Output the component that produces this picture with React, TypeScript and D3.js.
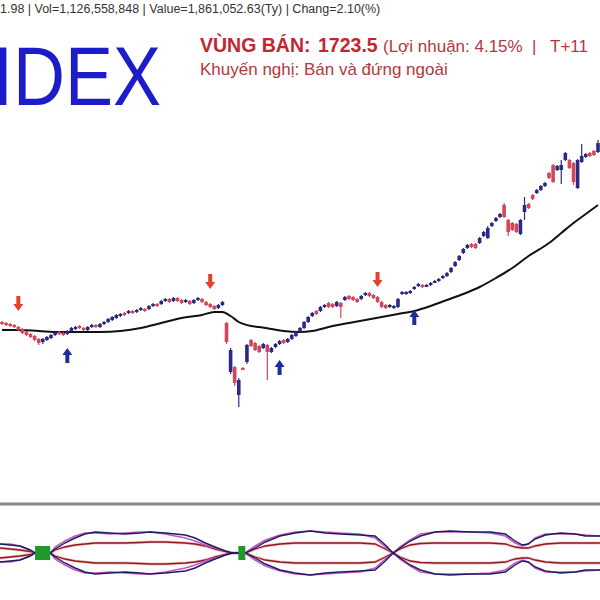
import React from "react";
import * as d3 from "d3";

// ---------- Candle data (price units) ----------
const opens = [1356,1354,1352,1350,1346,1342,1336,1332,1328,1322,1316,1320,1324,1330,1336,1334,1332,1338,1342,1348,1344,1340,1346,1350,1346,1352,1356,1360,1364,1368,1374,1374,1378,1376,1380,1382,1382,1388,1392,1392,1398,1402,1398,1404,1400,1396,1398,1394,1400,1402,1396,1392,1388,1384,1390,1354,1256,1266,1210,1264,1276,1320,1314,1308,1304,1310,1296,1306,1312,1320,1316,1322,1328,1336,1344,1356,1368,1378,1378,1386,1394,1392,1388,1394,1400,1408,1406,1402,1402,1410,1414,1410,1406,1396,1390,1386,1384,1386,1412,1412,1414,1422,1428,1430,1428,1430,1436,1438,1444,1448,1456,1468,1480,1494,1504,1512,1512,1514,1528,1524,1548,1558,1566,1590,1560,1554,1552,1532,1576,1592,1610,1614,1620,1628,1654,1670,1660,1660,1680,1680,1674,1624,1676,1686,1694,1698,1696];
const closes = [1352,1350,1348,1346,1340,1334,1330,1326,1320,1314,1322,1326,1330,1334,1332,1330,1338,1344,1346,1344,1340,1346,1350,1346,1352,1356,1362,1366,1370,1372,1370,1378,1374,1380,1384,1378,1388,1392,1388,1398,1402,1396,1404,1398,1394,1400,1392,1400,1404,1396,1390,1386,1382,1390,1396,1316,1300,1234,1240,1262,1310,1308,1300,1296,1312,1296,1304,1312,1318,1314,1322,1330,1336,1344,1356,1366,1374,1372,1386,1390,1386,1386,1396,1386,1406,1402,1400,1396,1408,1414,1408,1404,1396,1386,1384,1390,1388,1402,1416,1416,1418,1426,1432,1426,1430,1434,1438,1442,1448,1454,1464,1476,1488,1502,1510,1506,1504,1524,1536,1544,1554,1564,1572,1566,1536,1540,1536,1560,1590,1584,1602,1620,1628,1634,1644,1636,1668,1670,1694,1664,1636,1680,1688,1692,1688,1690,1714];
const highs = [1358,1356,1354,1352,1348,1344,1338,1334,1330,1324,1324,1328,1332,1336,1338,1336,1340,1346,1348,1350,1346,1348,1352,1352,1354,1358,1364,1368,1372,1374,1376,1380,1380,1382,1386,1384,1390,1394,1394,1400,1404,1404,1406,1406,1402,1402,1400,1402,1406,1404,1398,1394,1390,1392,1398,1356,1304,1268,1244,1266,1312,1322,1316,1310,1314,1312,1306,1314,1320,1322,1324,1332,1338,1346,1358,1368,1376,1380,1388,1392,1396,1394,1398,1396,1408,1410,1408,1404,1410,1416,1416,1412,1408,1398,1392,1392,1390,1404,1418,1418,1420,1428,1434,1432,1432,1436,1440,1444,1450,1456,1466,1478,1490,1504,1512,1514,1514,1526,1538,1548,1556,1566,1574,1594,1562,1556,1554,1562,1606,1594,1612,1622,1630,1636,1656,1672,1670,1680,1696,1682,1676,1682,1712,1694,1696,1700,1720];
const lows = [1350,1348,1346,1344,1338,1332,1328,1324,1318,1310,1312,1318,1322,1328,1330,1328,1330,1336,1340,1342,1338,1338,1344,1344,1344,1350,1354,1358,1362,1366,1368,1372,1372,1374,1378,1376,1380,1386,1386,1390,1396,1394,1396,1396,1392,1394,1390,1392,1398,1394,1388,1384,1380,1382,1388,1312,1252,1228,1186,1260,1272,1306,1298,1294,1302,1240,1294,1304,1310,1312,1314,1320,1326,1334,1342,1354,1366,1370,1376,1384,1384,1384,1386,1364,1398,1400,1398,1394,1400,1408,1406,1402,1394,1384,1382,1384,1382,1384,1410,1410,1412,1420,1426,1424,1426,1428,1434,1436,1442,1446,1454,1466,1478,1492,1502,1504,1502,1512,1526,1522,1546,1556,1564,1564,1528,1538,1534,1530,1560,1582,1600,1612,1618,1626,1642,1634,1658,1632,1678,1662,1630,1622,1674,1684,1686,1688,1694];

// ---------- Moving average (sampled at candle indices) ----------
const maIdx = [0,4,9,14,19,24,29,34,39,44,49,52,54,56,58,61,63,66,69,73,76,80,85,89,93,97,101,105,109,113,117,121,125,129,134,137,140,143,146];
const maVal = [1340,1340,1338,1336,1336,1336,1338,1344,1354,1364,1370,1376,1376,1368,1356,1348,1346,1342,1338,1336,1338,1346,1354,1360,1366,1372,1378,1388,1400,1412,1426,1444,1464,1488,1514,1534,1554,1572,1590];

// ---------- Signals ----------
const sellIdx = [4, 51, 92];
const sellPrice = [1378, 1422, 1426];
const buyIdx = [16, 68, 101];
const buyPrice = [1304, 1280, 1380];

// ---------- Oscillator panel ----------
const oscIdx = [-0.5,2,4.4,6.9,8.1,11.8,13,15.4,17.9,20.3,22.8,26.5,30.1,33.8,36.3,40,42.4,44.9,47.3,49.8,52.2,54.7,56.4,59.6,62,64.5,68.1,71.8,75.5,79.2,82.8,87.7,91.4,93.9,95.8,97.5,100,102.5,106.1,109.8,114.7,119.6,123.3,125.7,127.5,128.9,130.6,133.1,136.8,140.4,142.9,146.6];
const oscNavy = [9,8,7,3,0,0,4,10,15,19,21,20,19,20,21,20,19,18,15,10,6,2,0,0,5,11,17,20,22,20,19,18,17,8,0,5,12,17,21,22,21,21,19,12,8,9,14,18,20,19,17,17];
const oscMagenta = [9,9,7,3,0,0,6,12,17,20,20,19,20,21,21,19,17,15,12,8,5,2,0,0,7,13,18,21,22,21,20,19,15,6,0,6,13,19,21,21,21,20,17,10,7,9,15,19,19,19,18,17];
const oscInner = [5,4,3,1.5,0,0,3,6,8,9,10,10,10,10.5,11,11,10.5,10,9,7,4,1.5,0,0,4,7,9,10,10,10,10,10,9,4,0,4,8,9.5,10,10,10,10,9,6,5,5,7,9,10,10,10,10];
const markStart = [8.1, 57.9];
const markEnd = [11.8, 59.6];

// ---------- Header texts ----------
const infoLine = "1.98 | Vol=1,126,558,848 | Value=1,861,052.63(Ty) | Chang=2.10(%)";
const indexName = "IDEX";
const zoneLabel = "VÙNG BÁN:";
const zonePrice = "1723.5";
const profitText = "(Lợi nhuận: 4.15%";
const holdText = "T+11";
const adviceText = "Khuyến nghị: Bán và đứng ngoài";

const UP = "#2a2a86";
const DOWN = "#d6455a";

export default function App() {
  const n = opens.length;
  const x = d3.scaleLinear().domain([0, n - 1]).range([2, 598]);
  const y = d3.scaleLinear().domain([2000, 800]).range([0, 600]);
  const oy = d3.scaleLinear().domain([-25, 25]).range([578, 528]);

  const maLine = d3
    .line<number>()
    .x((_, i) => x(maIdx[i]))
    .y((d) => y(d))
    .curve(d3.curveMonotoneX)(maVal) as string;

  const oscLine = (vals: number[], sign: number) =>
    d3
      .line<number>()
      .x((_, i) => x(oscIdx[i]))
      .y((d) => oy(sign * d))
      .curve(d3.curveLinear)(vals) as string;

  const bw = 3.6;
  const font = "'Liberation Sans', Arial, sans-serif";

  return (
    <svg
      width={600}
      height={600}
      style={{ position: "absolute", left: 0, top: 0, background: "#fff" }}
    >
      <rect x={0} y={0} width={600} height={600} fill="#fff" />
      {/* Header */}
      <text x={0} y={13} fontFamily={font} fontSize={12.5} fill="#333">
        {infoLine}
      </text>
      <g transform="translate(-7,105) scale(1,1.16)">
        <text x={0} y={0} fontFamily={font} fontSize={72} fill="#1c1cc8">
          {indexName}
        </text>
      </g>
      <text x={200} y={52} fontFamily={font} fontSize={19.5} fontWeight="bold" fill="#c4262f">
        {zoneLabel}
      </text>
      <text x={318} y={52} fontFamily={font} fontSize={19.5} fontWeight="bold" fill="#c4262f">
        {zonePrice}
      </text>
      <text x={383} y={52} fontFamily={font} fontSize={17} fill="#b2383c">
        {profitText}
      </text>
      <text x={532} y={52} fontFamily={font} fontSize={17} fill="#b2383c">
        |
      </text>
      <text x={550} y={52} fontFamily={font} fontSize={17} fill="#b2383c">
        {holdText}
      </text>
      <text x={200} y={75} fontFamily={font} fontSize={17} fill="#b2383c">
        {adviceText}
      </text>

      {/* MA line */}
      <path d={maLine} fill="none" stroke="#111" strokeWidth={2} />

      {/* Candles */}
      {opens.map((o, i) => {
        const c = closes[i];
        const col = c >= o ? UP : DOWN;
        const top = y(Math.max(o, c));
        const bot = y(Math.min(o, c));
        return (
          <g key={i}>
            <line
              x1={x(i)}
              x2={x(i)}
              y1={y(highs[i])}
              y2={y(lows[i])}
              stroke={col}
              strokeWidth={1.2}
            />
            <rect
              x={x(i) - bw / 2}
              y={top}
              width={bw}
              height={Math.max(2, bot - top)}
              fill={col}
            />
          </g>
        );
      })}

      {/* Signals */}
      {sellIdx.map((idx, k) => {
        const cx = x(idx);
        const t = y(sellPrice[k]);
        const d = `M${cx - 2},${t - 15}L${cx + 2},${t - 15}L${cx + 2},${t - 7}L${cx + 5},${t - 7}L${cx},${t}L${cx - 5},${t - 7}L${cx - 2},${t - 7}Z`;
        return <path key={"s" + k} d={d} fill="#e2412c" />;
      })}
      {buyIdx.map((idx, k) => {
        const cx = x(idx);
        const t = y(buyPrice[k]);
        const d = `M${cx - 2},${t + 15}L${cx + 2},${t + 15}L${cx + 2},${t + 7}L${cx + 5},${t + 7}L${cx},${t}L${cx - 5},${t + 7}L${cx - 2},${t + 7}Z`;
        return <path key={"b" + k} d={d} fill="#1f2a9c" />;
      })}

      {/* Divider */}
      <line x1={0} x2={600} y1={504} y2={504} stroke="#888" strokeWidth={3} />

      {/* Oscillator */}
      <g fill="none">
        <path d={oscLine(oscInner, 1)} stroke="#f29aaa" strokeWidth={3} opacity={0.6} />
        <path d={oscLine(oscInner, -1)} stroke="#f29aaa" strokeWidth={3} opacity={0.6} />
        <path d={oscLine(oscInner, 1)} stroke="#8c1c1c" strokeWidth={1.3} />
        <path d={oscLine(oscInner, -1)} stroke="#8c1c1c" strokeWidth={1.3} />
        <path d={oscLine(oscMagenta, 1)} stroke="#c457c8" strokeWidth={1.6} />
        <path d={oscLine(oscMagenta, -1)} stroke="#c457c8" strokeWidth={1.6} />
        <path d={oscLine(oscNavy, 1)} stroke="#1c1c5c" strokeWidth={1.4} />
        <path d={oscLine(oscNavy, -1)} stroke="#1c1c5c" strokeWidth={1.4} />
      </g>
      {markStart.map((s, k) => (
        <rect
          key={"m" + k}
          x={x(s)}
          y={oy(7)}
          width={x(markEnd[k]) - x(s)}
          height={oy(-7) - oy(7)}
          fill="#1f9a2a"
        />
      ))}
    </svg>
  );
}
